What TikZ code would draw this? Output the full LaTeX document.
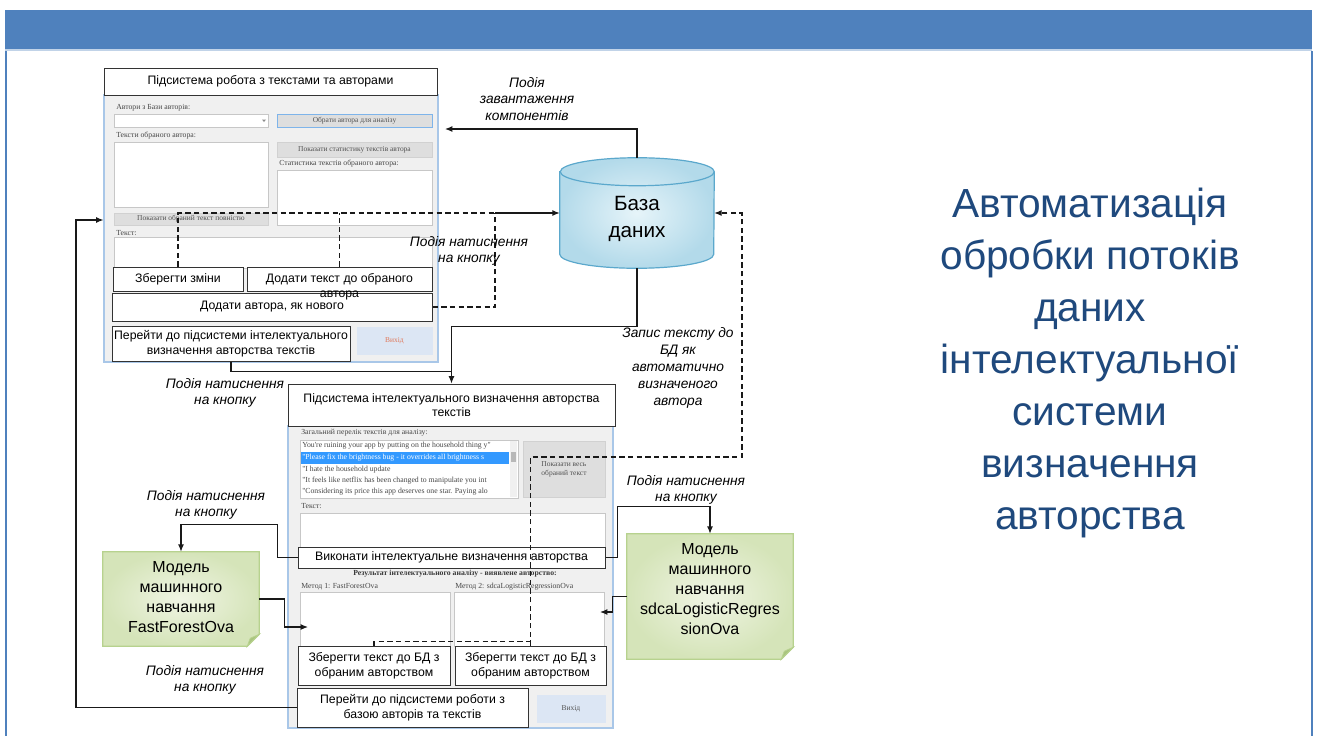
\documentclass[tikz,border=0pt]{standalone}
\usepackage{fontspec}
\setmainfont{Liberation Sans}
\newfontfamily\formfont{Liberation Serif}
\usetikzlibrary{arrows.meta,calc,backgrounds}
\pgfdeclarelayer{page}
\pgfsetlayers{page,background,main}

\definecolor{hdrblue}{HTML}{4F81BD}
\definecolor{titleblue}{HTML}{1F497D}
\definecolor{winedge}{HTML}{A9C7E8}
\definecolor{winfill}{HTML}{F0F0F0}
\definecolor{focusedge}{HTML}{7EB4EA}
\definecolor{dbedge}{HTML}{5BA8CC}
\definecolor{dbin}{HTML}{E6F4F9}
\definecolor{dbout}{HTML}{B3DAEA}
\definecolor{noteedge}{HTML}{B7D28E}
\definecolor{notein}{HTML}{F0F5E4}
\definecolor{noteout}{HTML}{D5E4B9}
\definecolor{notefold}{HTML}{A9C47F}
\definecolor{selblue}{HTML}{3399FF}
\definecolor{exitfill}{HTML}{DCE6F4}
\definecolor{exittext}{HTML}{E0785A}

\begin{document}
\begin{tikzpicture}[x=0.75pt,y=-0.75pt,
  placed/.style n args={4}{minimum width={(#3-(#1))*0.75pt},minimum height={(#4-(#2))*0.75pt},at={({(#1+#3)/2},{(#2+#4)/2})}},
  uibox/.style={draw=black!80,line width=0.75pt,fill=white,inner sep=1pt,align=center,font=\fontsize{9.2}{11}\selectfont},
  window/.style={draw=winedge,fill=winfill,line width=0.8pt,inner sep=0},
  field/.style={draw=black!22,fill=white,line width=0.4pt,inner sep=0},
  fbtn/.style={draw=black!18,fill=black!13,line width=0.4pt,inner sep=0,align=center,font=\formfont\fontsize{5.6}{6.6}\selectfont,text=black!68},
  ctl/.style={inner sep=0,anchor=west,font=\formfont\fontsize{5.8}{6.6}\selectfont,text=black!72},
  evt/.style={align=center,inner sep=0,font=\itshape\fontsize{10.3}{12.6}\selectfont},
  modeltext/.style={inner sep=0,align=center,font=\fontsize{12}{15}\selectfont},
  conn/.style={draw=black!90,line width=0.9pt,-{Latex[length=5.5pt,width=4.5pt]}},
  wire/.style={draw=black!90,line width=0.9pt},
  dwire/.style={wire,dash pattern=on 4pt off 2.5pt},
  dconn/.style={conn,dash pattern=on 4pt off 2.5pt},
]
\useasboundingbox (0,0) rectangle (1318,736);

% slide frame and header bar
\begin{pgfonlayer}{page}
  \fill[white] (0,0) rectangle (1318,736);
  \fill[hdrblue] (5,10) rectangle (1312,49);
  \fill[hdrblue!35] (5,49) rectangle (1312,51);
  \draw[hdrblue,line width=1.5pt] (6,51) -- (6,736);
  \draw[hdrblue,line width=1.5pt] (1311.5,51) -- (1311.5,736);
\end{pgfonlayer}

% ---------- form: authors and texts ----------
\node[window,placed={104}{95}{438}{362}] (win1) {};
\node[ctl] (l1a) at (116,108) {Автори з Бази авторів:};
\node[field,placed={114}{114}{268}{127}] (cbAuthors) {};
\fill[black!45] (262,119.5) -- (266,119.5) -- (264,122) -- cycle;
\node[fbtn,draw=focusedge,placed={277}{114}{432}{127}] (bPick) {Обрати автора для аналізу};
\node[ctl] (l1b) at (116,136) {Тексти обраного автора:};
\node[field,placed={114}{142}{268}{207}] (tAuthorTexts) {};
\node[fbtn,placed={277}{142}{432}{157}] (bStats) {Показати статистику текстів автора};
\node[ctl] (l1c) at (279,164) {Статистика текстів обраного автора:};
\node[field,placed={277}{170}{432}{225}] (tStats) {};
\node[fbtn,placed={114}{213}{268}{225}] (bShowText) {Показати обраний текст повністю};
\node[ctl] (l1d) at (116,233) {Текст:};
\node[field,placed={114}{237}{432}{268}] (tText1) {};
\node[fbtn,fill=exitfill,draw=exitfill,text=exittext,placed={357}{327}{432}{354}] (bExit1) {Вихід};

% ---------- form: authorship detection ----------
\node[window,placed={288}{426}{613}{728}] (win2) {};
\node[ctl] (l2a) at (301,433) {Загальний перелік текстів для аналізу:};
\node[field,placed={300}{440}{518}{498}] (lsTexts) {};
\fill[selblue] (301,452) rectangle (509,464);
\begin{scope}
  \clip (301,441) rectangle (509,497);
  \node[ctl] (it1) at (302,446) {You're ruining your app by putting on the household thing y"};
  \node[ctl,text=white] (it2) at (302,458) {"Please fix the brightness bug - it overrides all brightness s};
  \node[ctl] (it3) at (302,469.5) {"I hate the household update};
  \node[ctl] (it4) at (302,481) {"It feels like netflix has been changed to manipulate you int};
  \node[ctl] (it5) at (302,492) {"Considering its price this app deserves one star. Paying alo};
\end{scope}
\fill[black!6] (510,441) rectangle (517,497);
\fill[black!28] (511,452) rectangle (516,462);
\node[fbtn,align=left,placed={523}{441}{605}{497}] (bShowAll) {Показати весь\\обраний текст};
\node[ctl] (l2b) at (301,506) {Текст:};
\node[field,placed={300}{513}{605}{548}] (tText2) {};
\node[ctl,anchor=center,font=\formfont\bfseries\fontsize{5.8}{6.6}\selectfont,text=black!78] (l2c) at (455,574) {Результат інтелектуального аналізу - виявлене авторство:};
\node[ctl] (l2d) at (301,587) {Метод 1: FastForestOva};
\node[ctl] (l2e) at (455,587) {Метод 2: sdcaLogisticRegressionOva};
\node[field,placed={300}{592}{450}{646}] (tRes1) {};
\node[field,placed={454}{592}{604}{646}] (tRes2) {};
\node[fbtn,fill=exitfill,draw=exitfill,placed={537}{695}{605}{722}] (bExit2) {Вихід};

% ---------- action boxes ----------
\node[uibox,placed={104}{68}{437}{95}] (title1) {Підсистема робота з текстами та авторами};
\node[uibox,placed={113}{267}{243}{291}] (bSave) {Зберегти зміни};
\node[uibox,placed={112}{293}{432}{321}] (bAddAuthor) {Додати автора, як нового};
\node[uibox,placed={247}{267}{432}{291},
      label={[inner sep=0,font=\fontsize{9.2}{11}\selectfont,anchor=base,yshift=-4.6pt]below:автора}] (bAddText) {Додати текст до обраного};
\node[uibox,placed={112}{326}{350}{361}] (bGoAI) {Перейти до підсистеми інтелектуального\\визначення авторства текстів};

\node[uibox,placed={288}{384}{615}{426}] (title2) {Підсистема інтелектуального визначення авторства\\текстів};
\node[uibox,placed={298}{547}{605}{568}] (bRun) {Виконати інтелектуальне визначення авторства};
\node[uibox,placed={298}{646}{450}{685}] (bSave1) {Зберегти текст до БД з\\обраним авторством};
\node[uibox,placed={455}{646}{606}{685}] (bSave2) {Зберегти текст до БД з\\обраним авторством};
\node[uibox,placed={297}{688}{528}{727}] (bGoDB) {Перейти до підсистеми роботи з\\базою авторів та текстів};

% ---------- database and models ----------
\node[inner sep=0,placed={560}{158}{714}{268},
      label={[inner sep=0,align=center,font=\fontsize{15.5}{20}\selectfont,yshift=-4.5pt]center:{База\\даних}}] (db) {};
\node[inner sep=0,placed={103}{552}{259}{646},
      label={[modeltext,yshift=1.1pt]center:{Модель\\машинного\\навчання\\FastForestOva}}] (m1) {};
\node[inner sep=0,placed={627}{534}{793}{659},
      label={[modeltext,yshift=5.3pt]center:{Модель\\машинного\\навчання\\sdcaLogisticRegres\\sionOva}}] (m2) {};

\begin{pgfonlayer}{background}
  \shadedraw[draw=dbedge,line width=0.9pt,inner color=dbin,outer color=dbout]
    ($(db.north west)+(0,14)$) -- ($(db.south west)+(0,-14)$)
    arc[start angle=180,end angle=360,x radius=57.75pt,y radius=10.5pt]
    -- ($(db.north east)+(0,14)$)
    arc[start angle=0,end angle=180,x radius=57.75pt,y radius=10.5pt] -- cycle;
  \draw[dbedge,line width=0.9pt] ($(db.north east)+(0,14)$)
    arc[start angle=360,end angle=180,x radius=57.75pt,y radius=10.5pt];
  \foreach \m in {m1,m2}{
    \shadedraw[draw=noteedge,line width=0.8pt,inner color=notein,outer color=noteout]
      (\m.north west) -- (\m.north east) -- ($(\m.south east)+(0,-12)$)
      -- ($(\m.south east)+(-12,0)$) -- (\m.south west) -- cycle;
    \filldraw[fill=notefold,draw=noteedge,line width=0.6pt]
      ($(\m.south east)+(0,-12)$) -- ($(\m.south east)+(-12,0)$)
      -- ($(\m.south east)+(-9,-8)$) -- cycle;
  }
\end{pgfonlayer}

% ---------- connectors ----------
\coordinate (loadEnd) at (445,129);
\draw[conn] (db.north) |- (loadEnd);

\coordinate (jDb) at (495,213);
\draw[dwire] (bSave.north) |- (jDb);
\draw[dwire] (bAddText.north) -- (bAddText.north |- jDb);
\draw[dwire] (bAddAuthor.east) -| (jDb);
\draw[conn] (jDb) -- (db.west);

\draw[conn] (db.south) -- ++(0,58) -| (title2.north);
\draw[wire] (bGoAI.south) |- ($(title2.north)+(0,-12)$);

\coordinate (jR) at (742,457);
\draw[dconn] (bSave2.north) |- (jR) |- (db.east);
\draw[dwire] (bSave1.north) -- ++(0,-4) -| (bSave2.north);

\coordinate (jL) at (76,220);
\draw[conn] (bGoDB.west) -| (jL) -- (win1.west |- jL);

\draw[conn] (bRun.west) -- ++(-20,0) |- ($(m1.north)+(0,-27)$) -- (m1.north);
\coordinate (res1In) at (308,627);
\draw[conn] (m1.east) -- ++(25,0) |- (res1In);

\draw[conn] (bRun.east) -- ++(12,0) |- ($(m2.north)+(0,-27)$) -- (m2.north);
\coordinate (res2In) at (600,612);
\draw[conn] (m2.west) -- ++(-14,0) |- (res2In);

% ---------- event labels ----------
\node[evt] (evLoad) at (527,99) {Подія\\завантаження\\компонентів};
\node[evt] (evClick1) at (469,251) {Подія натиснення\\на кнопку};
\node[evt] (evClick2) at (225,393) {Подія натиснення\\на кнопку};
\node[evt] (evWrite) at (678,368) {Запис тексту до\\БД як\\автоматично\\визначеного\\автора};
\node[evt] (evClick3) at (206,505) {Подія натиснення\\на кнопку};
\node[evt] (evClick4) at (686,490) {Подія натиснення\\на кнопку};
\node[evt] (evClick5) at (205,680) {Подія натиснення\\на кнопку};

% ---------- slide title ----------
\node[align=center,text=titleblue,font=\fontsize{30.5}{39}\selectfont,inner sep=0] (slideTitle) at (1090,363)
  {Автоматизація\\обробки потоків\\даних\\інтелектуальної\\системи\\визначення\\авторства};
\end{tikzpicture}
\end{document}
